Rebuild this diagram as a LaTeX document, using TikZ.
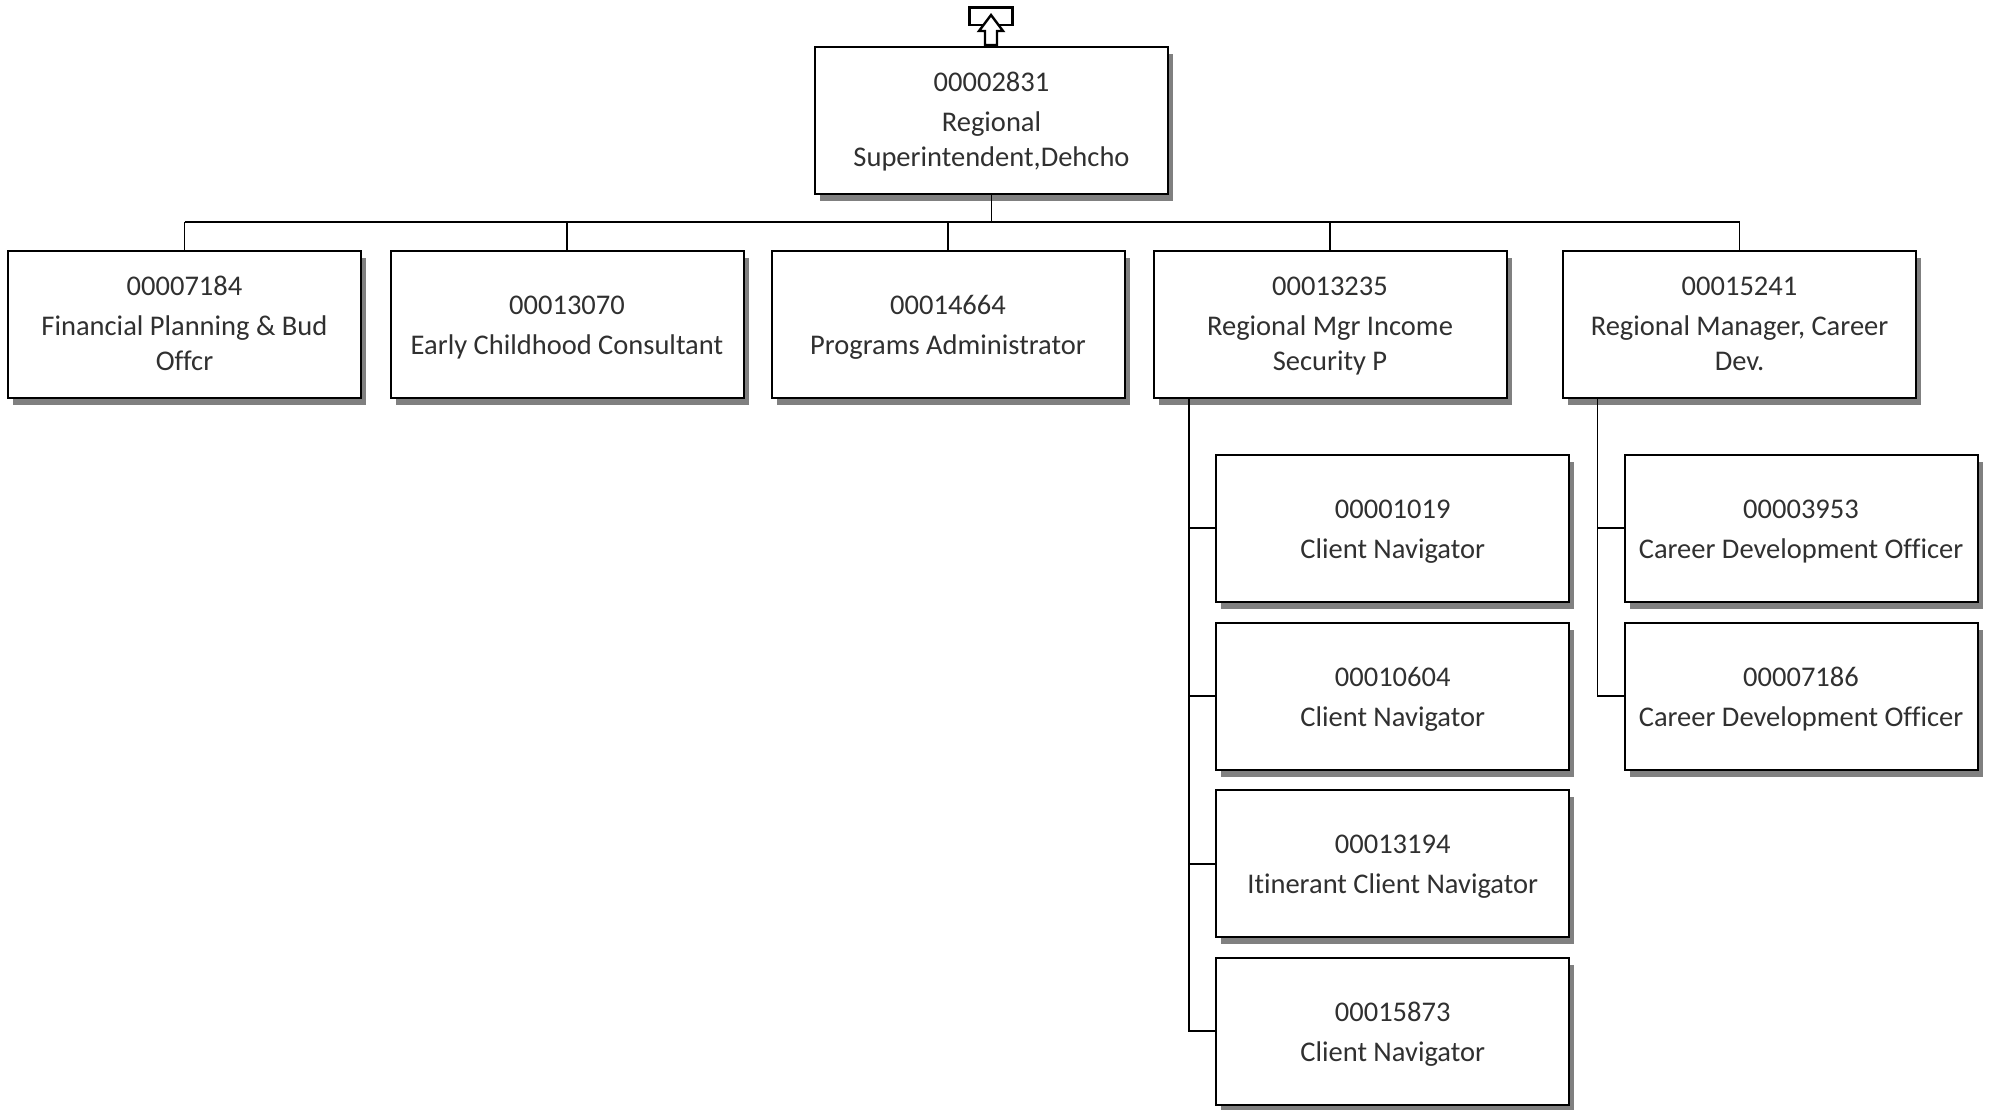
\documentclass[tikz,border=0pt]{standalone}
\usepackage{fontspec}
\setmainfont[Ligatures=NoCommon]{Carlito}
\usetikzlibrary{shadows}
\definecolor{shadowgray}{HTML}{808080}
\definecolor{txt}{HTML}{303030}
\tikzset{
  box/.style={draw=black, line width=2pt, fill=white, minimum width=353pt,
    minimum height=147pt, inner sep=0pt,
    general shadow={fill=shadowgray, draw=none, shadow xshift=5pt, shadow yshift=-7pt}},
  lab/.style={inner sep=0pt, text=txt, anchor=base, font=\fontsize{28.5}{34.5}\selectfont},
  conn/.style={draw=black, line width=1.8pt},
  icon/.style={draw=black, line width=2.4pt, fill=white, line join=miter}
}
% name, position, number, title
\newcommand\orgboxA[4]{%
  \node[box] (#1) at (#2) {};
  \node[lab] (#1n) at ([yshift=-64.5pt]#1.north) {#3};
  \node[lab] (#1t) at ([yshift=-104.5pt]#1.north) {#4};
}
% name, position, number, title line 1, title line 2
\newcommand\orgboxB[5]{%
  \node[box] (#1) at (#2) {};
  \node[lab] (#1n) at ([yshift=-46pt]#1.north) {#3};
  \node[lab] (#1t) at ([yshift=-86pt]#1.north) {#4};
  \node[lab] (#1u) at ([yshift=-120.5pt]#1.north) {#5};
}
\begin{document}
\begin{tikzpicture}[x=1pt, y=-1pt]
\useasboundingbox (0,0) rectangle (1990,1109);
% top
\orgboxB{top}{991.5,120}{00002831}{Regional}{Superintendent,Dehcho}
% level 1
\orgboxB{a}{184.5,324}{00007184}{Financial Planning \& Bud}{Offcr}
\orgboxA{b}{567,324}{00013070}{Early Childhood Consultant}
\orgboxA{c}{948,324}{00014664}{Programs Administrator}
\orgboxB{d}{1330,324}{00013235}{Regional Mgr Income}{Security P}
\orgboxB{e}{1739.5,324}{00015241}{Regional Manager, Career}{Dev.}
% children of d
\orgboxA{d1}{1392.7,528.3}{00001019}{Client Navigator}
\orgboxA{d2}{1392.7,696}{00010604}{Client Navigator}
\orgboxA{d3}{1392.7,863.7}{00013194}{Itinerant Client Navigator}
\orgboxA{d4}{1392.7,1031.3}{00015873}{Client Navigator}
% children of e
\orgboxA{e1}{1801,528.3}{00003953}{Career Development Officer}
\orgboxA{e2}{1801,696}{00007186}{Career Development Officer}
% bus
\coordinate (busL) at (184.5,222);
\coordinate (busR) at (1739.5,222);
\draw[conn] (busL) -- (busR);
\draw[conn] (top.south) -- (top.south |- busL);
\foreach \n in {a,b,c,d,e} { \draw[conn] (\n.north) -- (\n.north |- busL); }
% d subtree
\coordinate (dv) at (1189,398);
\draw[conn] (dv) |- (d4.west);
\foreach \n in {d1,d2,d3} { \draw[conn] (\n.west -| dv) -- (\n.west); }
% e subtree
\coordinate (ev) at (1597.5,398);
\draw[conn] (ev) |- (e2.west);
\draw[conn] (e1.west -| ev) -- (e1.west);
% up icon
\draw[icon] (969.5,7.5) rectangle (1012.5,25);
\draw[icon] (991,15) -- (1003,31) -- (997,31) -- (997,45) -- (985,45) -- (985,31) -- (979,31) -- cycle;
\end{tikzpicture}
\end{document}
